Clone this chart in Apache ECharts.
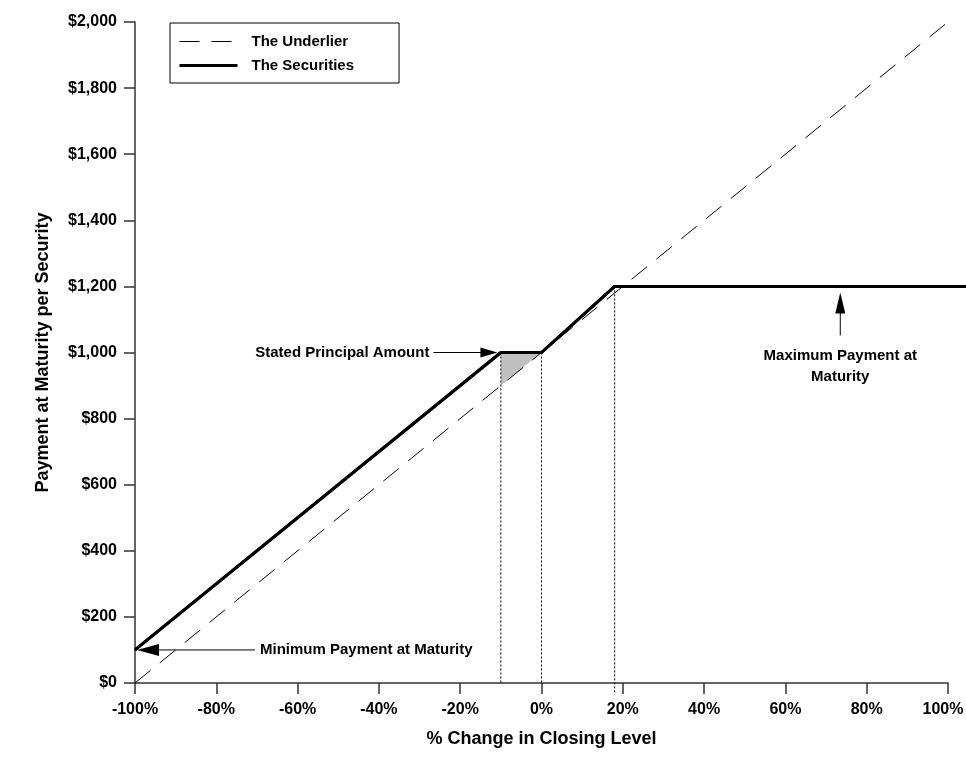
<!DOCTYPE html>
<html><head><meta charset="utf-8">
<script src="https://cdn.jsdelivr.net/npm/echarts@6/dist/echarts.min.js"></script>
<style>html,body{margin:0;padding:0;background:#fff}#c{width:966px;height:763px}</style>
</head><body><div id="c"></div>
<script>
// ---- data ----
const xTicks = [-100, -80, -60, -40, -20, 0, 20, 40, 60, 80, 100];
const yTicks = [0, 200, 400, 600, 800, 1000, 1200, 1400, 1600, 1800, 2000];
const underlierX = [-100, 100];
const underlierY = [0, 2000];
const securitiesX = [-100, -10, 0, 18, 104.5];
const securitiesY = [100, 1000, 1000, 1200, 1200];
const shadeX = [-10, 0, -10];
const shadeY = [1000, 1000, 900];
const guideX = [-10, 0, 18];
const guideTop = [1000, 1000, 1200];
const guideBottom = [0, 0, -36];
const noteTexts = ['Stated Principal Amount', 'Minimum Payment at Maturity', 'Maximum Payment at\nMaturity'];
const noteTipX = [-10.6, -100, 73.5];
const noteTipY = [1000, 100, 1200];

const FONT = '"Liberation Sans", Arial, Helvetica, sans-serif';
const AX = '#333';

const chart = echarts.init(document.getElementById('c'), null, {renderer: 'canvas'});
const zip = (xs, ys) => xs.map((x, i) => [x, ys[i]]);
const shadeData = zip(shadeX, shadeY);
const secData = zip(securitiesX, securitiesY);
const xMax = xTicks[xTicks.length - 1];

const option = {
  animation: false,
  backgroundColor: '#fff',
  grid: {left: 135, right: 18, top: 22, bottom: 80, outerBoundsMode: 'none', containLabel: false},
  legend: {
    data: [
      {name: 'The Underlier', lineStyle: {width: 1, type: [20, 12], color: '#000', opacity: 1}},
      {name: 'The Securities', lineStyle: {width: 3, color: '#000', opacity: 1}}
    ],
    orient: 'vertical', left: 170, top: 23,
    padding: [11, 45, 10, 8],
    itemWidth: 58, itemHeight: 14, itemGap: 9,
    borderColor: '#000', borderWidth: 1, selectedMode: false,
    itemStyle: {opacity: 0},
    textStyle: {fontFamily: FONT, fontSize: 15, fontWeight: 'bold', color: '#000', padding: [0, 0, 0, 9]}
  },
  xAxis: {
    type: 'value', min: xTicks[0], max: xMax, interval: 20,
    name: '% Change in Closing Level', nameLocation: 'middle', nameGap: 47,
    nameTextStyle: {fontFamily: FONT, fontSize: 18, fontWeight: 'bold', color: '#000'},
    axisLine: {onZero: false, lineStyle: {color: AX, width: 1.5}},
    axisTick: {length: 11, lineStyle: {color: AX, width: 1.5}},
    axisLabel: {
      formatter: v => v === xMax ? '{m|' + v + '%}' : v + '%',
      rich: {m: {fontFamily: FONT, fontSize: 16, fontWeight: 'bold', color: '#000', padding: [0, 10, 0, 0]}},
      margin: 19, fontFamily: FONT, fontSize: 16, fontWeight: 'bold', color: '#000'
    },
    splitLine: {show: false}
  },
  yAxis: {
    type: 'value', min: yTicks[0], max: yTicks[yTicks.length - 1], interval: 200,
    name: 'Payment at Maturity per Security', nameLocation: 'middle', nameGap: 83, nameRotate: 90,
    nameTextStyle: {fontFamily: FONT, fontSize: 18, fontWeight: 'bold', color: '#000'},
    axisLine: {show: true, onZero: false, lineStyle: {color: AX, width: 1.5}},
    axisTick: {show: true, length: 11, lineStyle: {color: AX, width: 1.5}},
    axisLabel: {formatter: v => '$' + v.toLocaleString('en-US'), margin: 18, fontFamily: FONT, fontSize: 16, fontWeight: 'bold', color: '#000'},
    splitLine: {show: false}
  },
  series: [
    {
      name: 'shade', type: 'custom', z: 1, silent: true,
      data: shadeData,
      renderItem: (params, api) => {
        if (params.dataIndex !== 0) return null;
        return {type: 'polygon', shape: {points: shadeData.map(d => api.coord(d))}, style: {fill: '#c0c0c0'}};
      }
    },
    {
      name: 'guides', type: 'custom', z: 2, silent: true,
      data: guideX.map((x, i) => [x, guideTop[i], guideBottom[i]]),
      encode: {x: 0, y: [1, 2]},
      renderItem: (params, api) => {
        const p1 = api.coord([api.value(0), api.value(1)]);
        const p2 = api.coord([api.value(0), api.value(2)]);
        return {type: 'line', shape: {x1: p1[0], y1: p1[1], x2: p2[0], y2: p2[1]}, style: {stroke: '#000', lineWidth: 1, lineDash: [2, 2]}};
      }
    },
    {
      name: 'The Underlier', type: 'line', z: 3, silent: true,
      data: zip(underlierX, underlierY), symbol: 'none', showSymbol: false,
      lineStyle: {color: '#000', width: 1, type: [20, 12]}, itemStyle: {color: '#000'}
    },
    {
      name: 'The Securities', type: 'line', z: 4, silent: true, clip: false,
      data: secData, symbol: 'none', showSymbol: false,
      lineStyle: {color: '#000', width: 3}, itemStyle: {color: '#000'}
    },
    {
      // same securities path, unclipped so the cap runs past the 100% end of the axis
      name: 'securities-unclipped', type: 'custom', z: 4, silent: true, clip: false,
      data: secData,
      renderItem: (params, api) => {
        if (params.dataIndex !== 0) return null;
        return {type: 'polyline', shape: {points: secData.map(d => api.coord(d))}, style: {stroke: '#000', lineWidth: 3, fill: null, lineJoin: 'miter'}};
      }
    }
  ]
};
chart.setOption(option);

// annotations anchored at data points
const px = (x, y) => chart.convertToPixel({gridIndex: 0}, [x, y]);
const tf = {fontFamily: FONT, fontSize: 15, fontWeight: 'bold', fill: '#000'};
const g = [];
// Stated principal: arrow pointing right
(function () {
  const [x, y] = px(noteTipX[0], noteTipY[0]);
  const tx = x - 1;
  g.push({type: 'line', shape: {x1: tx - 64, y1: y, x2: tx - 15, y2: y}, style: {stroke: '#000', lineWidth: 1}});
  g.push({type: 'polygon', shape: {points: [[tx, y], [tx - 17, y - 5], [tx - 17, y + 5]]}, style: {fill: '#000'}});
  g.push({type: 'text', x: tx - 68, y: y, style: Object.assign({text: noteTexts[0], align: 'right', verticalAlign: 'middle'}, tf)});
})();
// Minimum payment: arrow pointing left
(function () {
  const [x, y] = px(noteTipX[1], noteTipY[1]);
  const tx = x + 2;
  g.push({type: 'polygon', shape: {points: [[tx, y], [tx + 22, y - 6], [tx + 22, y + 6]]}, style: {fill: '#000'}});
  g.push({type: 'line', shape: {x1: tx + 20, y1: y, x2: tx + 118, y2: y}, style: {stroke: '#000', lineWidth: 1}});
  g.push({type: 'text', x: tx + 123, y: y, style: Object.assign({text: noteTexts[1], align: 'left', verticalAlign: 'middle'}, tf)});
})();
// Maximum payment: arrow pointing up
(function () {
  const [x, y] = px(noteTipX[2], noteTipY[2]);
  const ty = y + 6;
  g.push({type: 'polygon', shape: {points: [[x, ty], [x - 5, ty + 21], [x + 5, ty + 21]]}, style: {fill: '#000'}});
  g.push({type: 'line', shape: {x1: x, y1: ty + 19, x2: x, y2: ty + 43}, style: {stroke: '#000', lineWidth: 1}});
  g.push({type: 'text', x: x, y: ty + 53, style: Object.assign({text: noteTexts[2], align: 'center', verticalAlign: 'top', lineHeight: 21}, tf)});
})();
chart.setOption({graphic: {elements: g}});
</script>
</body></html>
